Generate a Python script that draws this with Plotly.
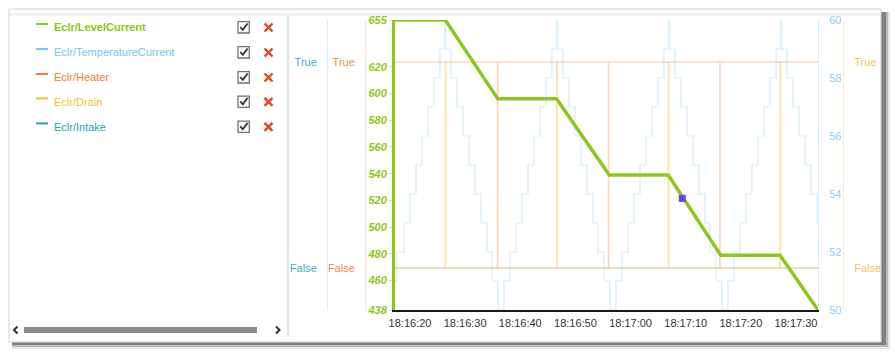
import plotly.graph_objects as go
import pandas as pd

W, H = 895, 354
BASE = pd.Timestamp("2024-01-01 18:16:20")

# ---------------- data (seconds relative to 18:16:20) ----------------
level_t = [-2.72, 6.40, 15.92, 26.57, 36.14, 46.83, 56.35, 67.10, 73.99]
level_v = [655, 655, 596, 596, 539, 539, 479, 479, 438]

temp_t = [-2.72, -2.36, -1.09, 0.00, 1.09, 2.18, 3.26, 4.35, 5.44, 6.35, 6.45,
          7.44, 8.52, 9.61, 10.70, 11.79, 12.88, 13.96, 14.87, 15.96,
          17.05, 18.14, 19.22, 20.31, 21.40, 22.49, 23.58, 24.66, 25.75, 26.66, 26.76,
          27.75, 28.84, 29.92, 31.01, 32.10, 33.19, 34.10, 35.18, 36.27,
          37.36, 38.45, 39.54, 40.62, 41.71, 42.80, 43.89, 44.98, 46.06, 46.97, 47.07,
          48.06, 49.15, 50.24, 51.32, 52.41, 53.50, 54.41, 55.49, 56.58,
          57.67, 58.76, 59.85, 60.94, 62.02, 63.11, 64.20, 65.29, 66.38, 67.28, 67.38,
          68.37, 69.46, 70.55, 71.64, 72.72, 73.81, 73.99]
temp_v = [51, 52, 53, 54, 55, 56, 57, 58, 59, 60, 59, 58, 57, 56, 55, 54, 53, 52, 51, 50,
          51, 52, 53, 54, 55, 56, 57, 58, 59, 60, 59, 58, 57, 56, 55, 54, 53, 52, 51, 50,
          51, 52, 53, 54, 55, 56, 57, 58, 59, 60, 59, 58, 57, 56, 55, 54, 53, 52, 51, 50,
          51, 52, 53, 54, 55, 56, 57, 58, 59, 60, 59, 58, 57, 56, 55, 54, 53, 53]

heater_t = [-2.72, 15.83, 15.93, 35.96, 36.06, 56.16, 56.26, 73.99]
heater_v = [1, 0, 1, 0, 1, 0, 1, 1]

drain_t = [-2.72, 6.40, 6.50, 26.60, 26.70, 46.84, 46.94, 67.10, 67.20, 73.99]
drain_v = [0, 1, 0, 1, 0, 1, 0, 1, 0, 0]

intake_t = [-2.72, 73.99]
intake_v = [0, 0]

hover_t = [49.38]
hover_v = [521.5]

x_tick_s = [0, 10, 20, 30, 40, 50, 60, 70]
x_tick_labels = ["18:16:20", "18:16:30", "18:16:40", "18:16:50",
                 "18:17:00", "18:17:10", "18:17:20", "18:17:30"]
level_ticks = [438, 460, 480, 500, 520, 540, 560, 580, 600, 620, 655]
temp_ticks = [50, 52, 54, 56, 58, 60]
bool_ticks = [0, 1]
bool_labels = ["False", "True"]

series_names = ["Eclr/LevelCurrent", "Eclr/TemperatureCurrent", "Eclr/Heater",
                "Eclr/Drain", "Eclr/Intake"]
series_colors = ["#8cc814", "#6cc8f5", "#f07d32", "#f0c31e", "#22a7b3"]


def ts(secs):
    return [BASE + pd.Timedelta(seconds=s) for s in secs]


def px(x):
    return x / W


def py(y):
    return 1 - y / H


FONT = "Liberation Sans, Arial, sans-serif"

fig = go.Figure()

fig.add_trace(go.Scatter(x=ts(drain_t), y=drain_v, yaxis="y5", mode="lines",
                         line=dict(color="rgba(240,190,30,0.38)", width=1.4, shape="hv"),
                         hoverinfo="skip"))
fig.add_trace(go.Scatter(x=ts(heater_t), y=heater_v, yaxis="y3", mode="lines",
                         line=dict(color="rgba(240,125,50,0.30)", width=1.3, shape="hv"),
                         hoverinfo="skip"))
fig.add_trace(go.Scatter(x=ts(intake_t), y=intake_v, yaxis="y4", mode="lines",
                         line=dict(color="rgba(34,167,179,0.25)", width=1.2, shape="hv"),
                         hoverinfo="skip"))
fig.add_trace(go.Scatter(x=ts(temp_t), y=temp_v, yaxis="y2", mode="lines",
                         line=dict(color="rgba(108,195,245,0.30)", width=1.2, shape="hv"),
                         hoverinfo="skip"))
fig.add_trace(go.Scatter(x=ts(level_t), y=level_v, yaxis="y", mode="lines",
                         line=dict(color="#8dc71c", width=3.5),
                         hoverinfo="skip"))
fig.add_trace(go.Scatter(x=ts(hover_t), y=hover_v, yaxis="y", mode="markers",
                         marker=dict(symbol="square", size=7, color="#6b3ff5"),
                         hoverinfo="skip"))

dom_x = [px(395), px(818)]
dom_y = [py(310), py(20)]

common = dict(showgrid=False, zeroline=False)

fig.update_layout(
    width=W, height=H, autosize=False,
    margin=dict(l=0, r=0, t=0, b=0, pad=0, autoexpand=False),
    paper_bgcolor="white", plot_bgcolor="rgba(0,0,0,0)",
    showlegend=False,
    font=dict(family=FONT, size=11, color="#333"),
    xaxis=dict(domain=dom_x, type="date",
               range=[ts([min(temp_t)])[0], ts([max(temp_t)])[0]],
               tickvals=ts(x_tick_s), ticktext=x_tick_labels,
               showline=True, linecolor="#1a1a1a", linewidth=2,
               ticks="outside", ticklen=2, tickwidth=1.5, tickcolor="white",
               tickfont=dict(size=11, color="#333", family=FONT),
               anchor="y", **common),
    yaxis=dict(domain=dom_y, range=[438, 655], tickvals=level_ticks,
               showline=True, linecolor="#8cc814", linewidth=3,
               ticks="outside", ticklen=3, tickcolor="#d5d5d5",
               tickfont=dict(size=11, color="#8cc814", family=FONT,
                             weight="bold", style="italic"),
               anchor="x", **common),
    yaxis2=dict(overlaying="y", side="right", anchor="x", range=[50, 60],
                tickvals=temp_ticks, showline=True,
                linecolor="rgba(108,195,245,0.30)", linewidth=1,
                ticks="", ticklabelstandoff=8,
                tickfont=dict(size=11, color="#8fd0f5", family=FONT), **common),
    yaxis3=dict(overlaying="y", side="left", anchor="free", position=px(365),
                range=[-0.204, 1.204], tickvals=bool_ticks, ticktext=bool_labels,
                showline=True, linecolor="rgba(240,125,50,0.20)", linewidth=1,
                ticks="", ticklabelstandoff=8,
                tickfont=dict(size=11, color="#f08a50", family=FONT), **common),
    yaxis4=dict(overlaying="y", side="left", anchor="free", position=px(327),
                range=[-0.204, 1.204], tickvals=bool_ticks, ticktext=bool_labels,
                showline=True, linecolor="rgba(108,185,235,0.25)", linewidth=1,
                ticks="", ticklabelstandoff=8,
                tickfont=dict(size=11, color="#35adc2", family=FONT), **common),
    yaxis5=dict(overlaying="y", side="right", anchor="free", position=px(843),
                range=[-0.204, 1.204], tickvals=bool_ticks, ticktext=bool_labels,
                showline=True, linecolor="rgba(240,195,30,0.30)", linewidth=1,
                ticks="", ticklabelstandoff=8,
                tickfont=dict(size=11, color="#f0c850", family=FONT), **common),
)

shapes = []


def rect(x0, y0, x1, y1, fill, line=None, lw=0, layer="below"):
    shapes.append(dict(type="rect", xref="paper", yref="paper",
                       x0=px(x0), x1=px(x1), y0=py(y1), y1=py(y0),
                       fillcolor=fill, line=dict(color=line or "rgba(0,0,0,0)", width=lw),
                       layer=layer))


def seg(x0, y0, x1, y1, color, lw, layer="below"):
    shapes.append(dict(type="line", xref="paper", yref="paper",
                       x0=px(x0), x1=px(x1), y0=py(y0), y1=py(y1),
                       line=dict(color=color, width=lw), layer=layer))


def path(pts, color, lw, layer="above"):
    d = "M " + " L ".join(f"{px(a):.5f},{py(b):.5f}" for a, b in pts)
    shapes.append(dict(type="path", xref="paper", yref="paper", path=d,
                       line=dict(color=color, width=lw), layer=layer))


# frame with drop shadow
rect(12, 12, 890, 349, "rgba(0,0,0,0.10)")
rect(12, 12, 888, 347, "rgba(0,0,0,0.18)")
rect(12, 12, 886, 345, "rgba(0,0,0,0.30)")
rect(9, 9, 881, 342, "white", "#d2d2d2", 1)
seg(10, 14.5, 880, 14.5, "#ebebeb", 2)
seg(288, 15, 288, 337, "#e3e3e3", 2)

# legend panel
rows_y = [27.3, 52.3, 77.3, 101.7, 126.7]
annotations = []
for i, (name, col) in enumerate(zip(series_names, series_colors)):
    y = rows_y[i]
    seg(36, y - 3.3, 48, y - 3.3, col, 2, layer="above")
    txt = f"<b>{name}</b>" if i == 0 else name
    annotations.append(dict(xref="paper", yref="paper", x=px(52), y=py(y),
                            xanchor="left", yanchor="middle", text=txt, showarrow=False,
                            font=dict(family=FONT, size=11, color=col)))
    rect(238, y - 5.6, 249.3, y + 5.7, "white", "#707070", 1.3, layer="above")
    path([(240.3, y - 0.3), (242.8, y + 2.6), (247.6, y - 3.8)], "#333", 1.8)
    seg(264.5, y - 3.8, 272.5, y + 4.2, "#e8461c", 2.4, layer="above")
    seg(264.5, y + 4.2, 272.5, y - 3.8, "#e8461c", 2.4, layer="above")

# scrollbar
rect(24, 327, 257, 333, "#8c8c8c", layer="above")
path([(17.5, 326.5), (14, 330), (17.5, 333.5)], "#333", 2)
path([(276, 326.5), (279.5, 330), (276, 333.5)], "#333", 2)

fig.update_layout(shapes=shapes, annotations=annotations)

fig.write_html("out.html", config={"responsive": False},
               post_script="document.body.style.margin='0';document.body.style.overflow='hidden';")
